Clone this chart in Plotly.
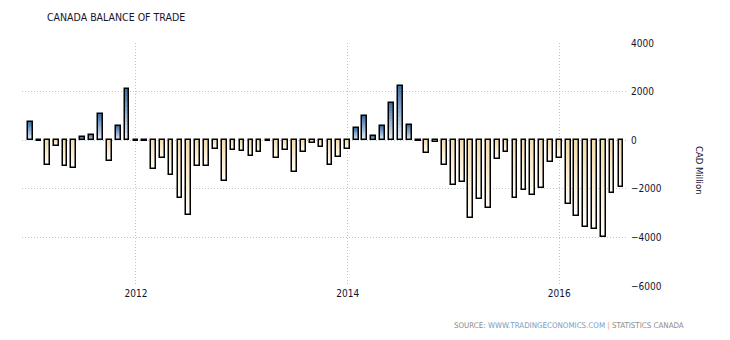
import pandas as pd
import plotly.graph_objects as go

# Canada balance of trade, monthly, CAD million (Jan 2011 - Aug 2016)
months = pd.date_range("2011-01-01", periods=68, freq="MS")
balance_2011 = [750, -40, -1000, -250, -1080, -1140, 125, 220, 1080, -875, 580, 2120]
balance_2012 = [-30, -30, -1170, -750, -1420, -2370, -3080, -1080, -1080, -375, -1690, -420]
balance_2013 = [-460, -670, -500, -50, -750, -420, -1290, -500, -110, -290, -1000, -710]
balance_2014 = [-375, 500, 1000, 170, 580, 1540, 2250, 625, -30, -540, -85, -1000]
balance_2015 = [-1830, -1710, -3210, -2420, -2790, -790, -500, -2370, -2040, -2250, -1960, -900]
balance_2016 = [-750, -2640, -3100, -3560, -3640, -3970, -2170, -1920]
balance = (balance_2011 + balance_2012 + balance_2013 + balance_2014
           + balance_2015 + balance_2016)

year_ticks = ["2012-01-01", "2014-01-01", "2016-01-01"]
year_labels = ["2012", "2014", "2016"]
y_ticks = [-6000, -4000, -2000, 0, 2000, 4000]

DAY_MS = 86400000
bar_width = 16.5 * DAY_MS


def lerp(c0, c1, t):
    return "rgb({},{},{})".format(*[round(a + (b - a) * t) for a, b in zip(c0, c1)])


POS_BASE, POS_END = (236, 243, 250), (58, 110, 166)     # near zero -> bar end
NEG_BASE, NEG_END = (244, 220, 172), (255, 253, 248)

fig = go.Figure()

# Gradient fill built from nested bars of decreasing height
layers = 14
for k in range(layers):
    f = 1 - k / layers
    t = 1 - (k + 0.5) / layers
    colors = [lerp(POS_BASE, POS_END, t) if v >= 0 else lerp(NEG_BASE, NEG_END, t)
              for v in balance]
    fig.add_trace(go.Bar(
        x=months, y=[v * f for v in balance], width=bar_width,
        marker=dict(color=colors, line=dict(width=0)),
        hoverinfo="skip", showlegend=False,
    ))

# Black outline on top
fig.add_trace(go.Bar(
    x=months, y=balance, width=bar_width,
    marker=dict(color="rgba(0,0,0,0)", line=dict(color="#000000", width=1.5)),
    showlegend=False, name="Balance of trade",
))

tick_font = dict(family="DejaVu Sans Condensed", size=10, color="#14142e")
grid = dict(showgrid=True, gridcolor="#c4c4c4", griddash="1px,2px", gridwidth=1)

fig.update_layout(
    width=730, height=340,
    margin=dict(l=22, r=102, t=43, b=54),
    paper_bgcolor="#ffffff", plot_bgcolor="#ffffff",
    barmode="overlay", bargap=0,
    xaxis=dict(
        range=["2010-12-04", "2016-08-25"],
        tickvals=year_ticks, ticktext=year_labels,
        showline=False, zeroline=False, ticks="",
        tickfont=tick_font, **grid,
    ),
    yaxis=dict(
        side="right", range=[-6000, 4000], tickvals=y_ticks,
        showline=False, zeroline=False, ticks="",
        ticklabelstandoff=2,
        tickfont=tick_font, **grid,
    ),
    annotations=[
        dict(text="CANADA BALANCE OF TRADE", xref="paper", yref="paper",
             x=0.038, y=1.107, xanchor="left", yanchor="middle", showarrow=False,
             font=dict(family="DejaVu Sans Condensed", size=10.5, color="#14142e")),
        dict(text="CAD Million", xref="paper", yref="paper",
             x=1.119, y=0.477, xanchor="center", yanchor="middle", showarrow=False,
             textangle=90,
             font=dict(family="DejaVu Sans Condensed", size=9.5, color="#14142e")),
        dict(text=("<span style='color:#8a8a8a'>SOURCE: </span>"
                   "<span style='color:#7b9cc0'>WWW.TRADINGECONOMICS.COM</span>"
                   "<span style='color:#f0a050'> | </span>"
                   "<span style='color:#8a8a8a'>STATISTICS CANADA</span>"),
             xref="paper", yref="paper", x=1.0957, y=-0.163,
             xanchor="right", yanchor="middle", showarrow=False,
             font=dict(family="DejaVu Sans Condensed", size=7.9, color="#8a8a8a")),
    ],
)

fig.write_html("out.html")
